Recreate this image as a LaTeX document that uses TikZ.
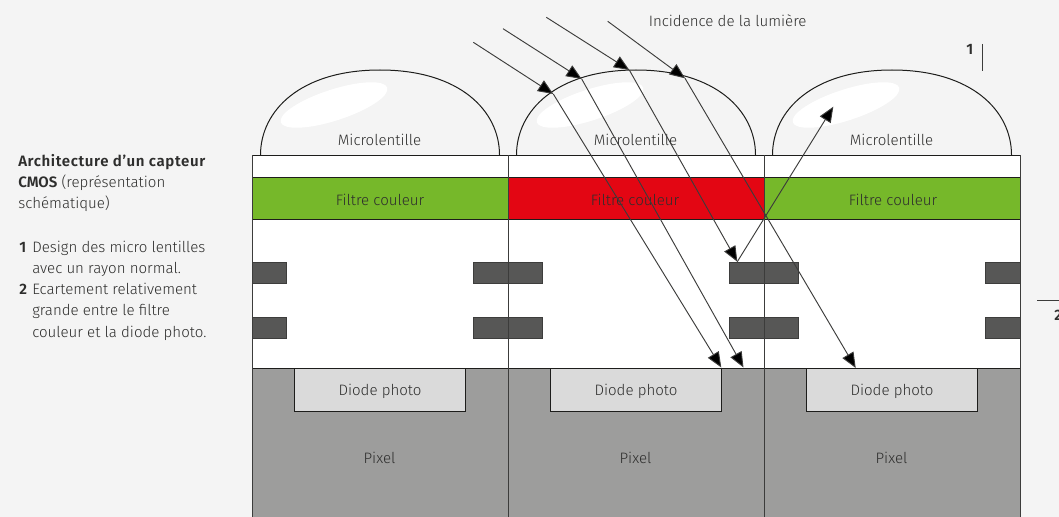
\documentclass[tikz,border=0pt]{standalone}
\usepackage{fontspec}
\setmainfont{Fira Sans}[UprightFont=* Light,BoldFont=* SemiBold]
\usetikzlibrary{arrows.meta}
\definecolor{bgc}{HTML}{F4F4F4}
\definecolor{grn}{HTML}{76B82A}
\definecolor{rdc}{HTML}{E30613}
\definecolor{pxl}{HTML}{9D9D9C}
\definecolor{dio}{HTML}{DADADA}
\definecolor{met}{HTML}{575756}
\definecolor{txt}{HTML}{2E2E2D}
\definecolor{lin}{HTML}{1D1D1B}
\definecolor{vln}{HTML}{3C3C3B}
\tikzset{
 x=0.75pt,y=-0.75pt,
 outl/.style={draw=lin,line width=0.75pt},
 vline/.style={draw=vln,line width=0.7pt},
 thin line/.style={draw=vln,line width=0.7pt},
 ray/.style={draw=vln,line width=0.7pt},
 rayhead/.style={ray,-{Triangle[length=11.5pt,width=9.5pt,fill=black]}},
 lbl/.style={text=txt,font=\fontsize{11.3pt}{13pt}\selectfont,inner sep=0pt,anchor=base},
 side/.style={lbl,anchor=base west},
}
\begin{document}
\begin{tikzpicture}
\fill[bgc] (0,0) rectangle (1059,517);
\useasboundingbox (0,0) rectangle (1059,517);
% cells
\fill[white] (252,155) rectangle (1020,368);
\fill[pxl] (252,368) rectangle (1020,517);
\fill[grn] (252,177) rectangle (508,219);
\fill[rdc] (508,177) rectangle (764,219);
\fill[grn] (764,177) rectangle (1020,219);
\foreach \o/\n in {0/a,256/b,512/c}{
  \fill[white,rotate around={18:(334+\o,105)}] (334+\o,105) ellipse [x radius=56,y radius=15.5];
  \draw[outl] (260.5+\o,155) .. controls (260.5+\o,111) and (300+\o,70) .. (380+\o,70)
     .. controls (460+\o,70) and (499.5+\o,111) .. (499.5+\o,155);
  \node[lbl] (lens\n) at (379.5+\o,145) {Microlentille};
  \draw[outl,fill=dio] (294.5+\o,368) -- (294.5+\o,411) -- (465+\o,411) -- (465+\o,368);
  \node[lbl] (diode\n) at (380+\o,395) {Diode photo};
  \node[lbl] (pixel\n) at (379.5+\o,463) {Pixel};
}
\node[lbl] (filtera) at (380,205) {Filtre couleur};
\node[lbl] (filterb) at (635,205) {Filtre couleur};
\node[lbl] (filterc) at (893,205) {Filtre couleur};
% metal
\foreach \y in {262,317}{
  \foreach \a/\b in {252/286.5,473/542.5,729.5/798,985/1020}{
    \draw[outl,fill=met,draw=met!70!black] (\a,\y) rectangle (\b,\y+21.5);
  }
}
% horizontal and vertical lines
\draw[outl] (252,155) -- (1020,155);
\draw[outl] (252,177) -- (1020,177);
\draw[outl] (252,219) -- (1020,219);
\draw[outl] (252,368) -- (1020,368);
\foreach \x in {252,508,764,1020}{\draw[vline] (\x,155) -- (\x,517);}
% rays
\coordinate (r1a) at (473.3,42.3); \coordinate (r1b) at (553.3,94); \coordinate (r1c) at (721.3,367.5);
\coordinate (r2a) at (503,28.7); \coordinate (r2b) at (581.7,79); \coordinate (r2c) at (743.5,367.5);
\coordinate (r3a) at (546.3,17.3); \coordinate (r3b) at (629.3,70); \coordinate (r3c) at (737.3,261.7); \coordinate (r3d) at (833.3,106.7);
\coordinate (r4a) at (607.7,21.3); \coordinate (r4b) at (685,78.3); \coordinate (r4c) at (855.7,368);
\foreach \r in {r1,r2,r3,r4}{
  \draw[rayhead] (\r a) -- (\r b);
  \draw[rayhead] (\r b) -- (\r c);
}
\draw[rayhead] (r3c) -- (r3d);
% labels
\node[lbl,anchor=base west] (inc) at (648.5,27) {Incidence de la lumière};
\node[side,font=\fontsize{11.3pt}{13pt}\bfseries] (n1) at (966,55) {1};
\coordinate (t1a) at (982,44); \coordinate (t1b) at (982,71);
\draw[thin line] (t1a) -- (t1b);
\coordinate (t2a) at (1037,300); \coordinate (t2b) at (1059,300);
\draw[thin line] (t2a) -- (t2b);
\node[side,font=\fontsize{11.3pt}{13pt}\bfseries] (n2) at (1054,320) {2};
% side text
\node[side,font=\fontsize{11.3pt}{13pt}\bfseries\addfontfeature{LetterSpace=4}] (s1) at (18,166) {Architecture d’un capteur};
\node[side] (s2) at (18,187) {\textbf{CMOS} (représentation};
\node[side] (s3) at (18,208) {schématique)};
\node[side] (s4) at (19,252) {\textbf{1}};
\node[side] (s5) at (32,252) {Design des micro lentilles};
\node[side] (s6) at (32,273) {avec un rayon normal.};
\node[side] (s7) at (19,294) {\textbf{2}};
\node[side] (s8) at (32,294) {Ecartement relativement};
\node[side] (s9) at (32,315) {grande entre le filtre};
\node[side] (s10) at (32,337) {couleur et la diode photo.};
\end{tikzpicture}
\end{document}
